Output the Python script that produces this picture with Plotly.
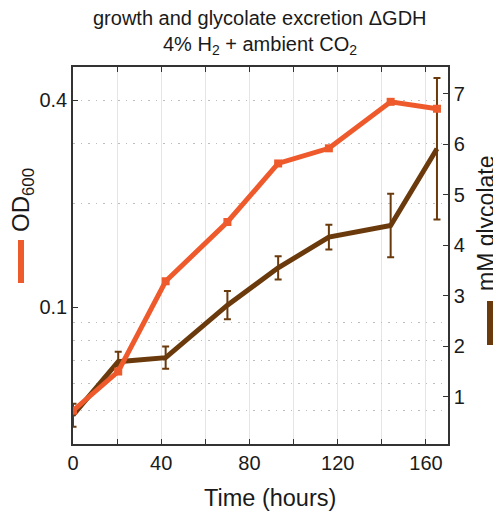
import plotly.graph_objects as go

# ---- data ----
time_h = [0, 20.5, 42, 70, 93, 116, 144, 165]
od600 = [0.050, 0.065, 0.119, 0.177, 0.262, 0.290, 0.396, 0.378]
glycolate_mM = [0.63, 1.69, 1.77, 2.81, 3.55, 4.16, 4.39, 5.91]
glycolate_err = [0.23, 0.20, 0.22, 0.28, 0.23, 0.245, 0.63, 1.40]

x_ticks = [0, 40, 80, 120, 160]
od_ticks = [0.1, 0.4]
od_minor = [0.05, 0.06, 0.07, 0.08, 0.09, 0.2, 0.3, 0.4]
gly_ticks = [1, 2, 3, 4, 5, 6, 7]

ORANGE = "#EE5A2B"
BROWN = "#6B3A0C"
AXC = "#333333"
FONT = "Liberation Sans, Arial, sans-serif"

# page is offset by the 8px default body margin
PX0, PY0, PW, PH = 73, 67, 375, 377


def px(xp):
    return (xp - PX0) / PW


def py(yp):
    return (PY0 + PH - yp) / PH


fig = go.Figure()

# glycolate (right axis) drawn first (underneath)
fig.add_trace(go.Scatter(
    x=time_h, y=glycolate_mM, yaxis="y", mode="lines",
    line=dict(color=BROWN, width=5),
    error_y=dict(type="data", array=glycolate_err, color=BROWN, thickness=2, width=3.5),
    showlegend=False, hoverinfo="skip"))

# OD600 (left log axis) on top
fig.add_trace(go.Scatter(
    x=time_h, y=od600, yaxis="y2", mode="lines+markers",
    line=dict(color=ORANGE, width=5),
    marker=dict(symbol="square", size=8, color=ORANGE),
    showlegend=False, hoverinfo="skip"))

fig.update_layout(
    width=493, height=504,
    margin=dict(l=65, r=53, t=59, b=68, autoexpand=False),
    paper_bgcolor="white", plot_bgcolor="white",
    font=dict(family=FONT, size=20, color="#1a1a1a"),
    xaxis=dict(range=[0, 170], tickvals=x_ticks, ticks="inside", ticklen=5,
               tickcolor=AXC, showline=True, linecolor=AXC, linewidth=1.5,
               mirror="ticks", showgrid=True, gridcolor="#e5e5e5", gridwidth=1,
               minor=dict(dtick=20, tick0=0, ticks="inside", ticklen=5, tickcolor=AXC,
                          showgrid=True, gridcolor="#e5e5e5"),
               zeroline=False, tickfont=dict(size=20), automargin=False),
    yaxis=dict(side="right", range=[0.06, 7.53], tickvals=gly_ticks,
               ticks="inside", ticklen=5, tickcolor=AXC, showline=True,
               linecolor=AXC, linewidth=1.5, showgrid=False, zeroline=False,
               tickfont=dict(size=20), automargin=False),
    yaxis2=dict(type="log", side="left", overlaying="y", anchor="x",
                range=[-1.39794, -0.30103], tickvals=od_ticks, ticktext=["0.1", "0.4"],
                ticks="inside", ticklen=5, tickcolor=AXC, showline=True,
                linecolor=AXC, linewidth=1.5, showgrid=False, zeroline=False,
                minor=dict(tickvals=od_minor, ticks="", showgrid=True,
                           gridcolor="#bdbdbd", griddash="1.5px,6px", gridwidth=1),
                tickfont=dict(size=20), automargin=False),
    yaxis3=dict(type="log", overlaying="y", anchor="x", side="left",
                range=[-1.39794, -0.30103], tickvals=[0.1], showticklabels=False,
                ticks="", showline=False, showgrid=True, gridcolor="#e5e5e5",
                gridwidth=1, zeroline=False),
)

annotations = [
    dict(text="growth and glycolate excretion ΔGDH", x=px(260), y=py(18), size=20),
    dict(text="4% H<sub>2</sub> + ambient CO<sub>2</sub>", x=px(260), y=py(45), size=20),
    dict(text="Time (hours)", x=px(270), y=py(498), size=23.5),
    dict(text="OD<sub>600</sub>", x=px(23), y=py(200), size=24, textangle=-90),
    dict(text="mM glycolate", x=px(501), y=py(224), size=23, textangle=-90,
         xanchor="right"),
]
fig.update_layout(annotations=[
    dict(text=a["text"], x=a["x"], y=a["y"], xref="paper", yref="paper",
         xanchor=a.get("xanchor", "center"), yanchor="middle", showarrow=False,
         textangle=a.get("textangle", 0), font=dict(size=a["size"]))
    for a in annotations])

fig.add_shape(type="line", xref="paper", yref="paper", x0=px(21), x1=px(21),
              y0=py(283), y1=py(240), line=dict(color=ORANGE, width=6))
fig.add_shape(type="line", xref="paper", yref="paper", x0=px(490), x1=px(490),
              y0=py(345), y1=py(301), line=dict(color=BROWN, width=6))

fig.write_html("out.html")
